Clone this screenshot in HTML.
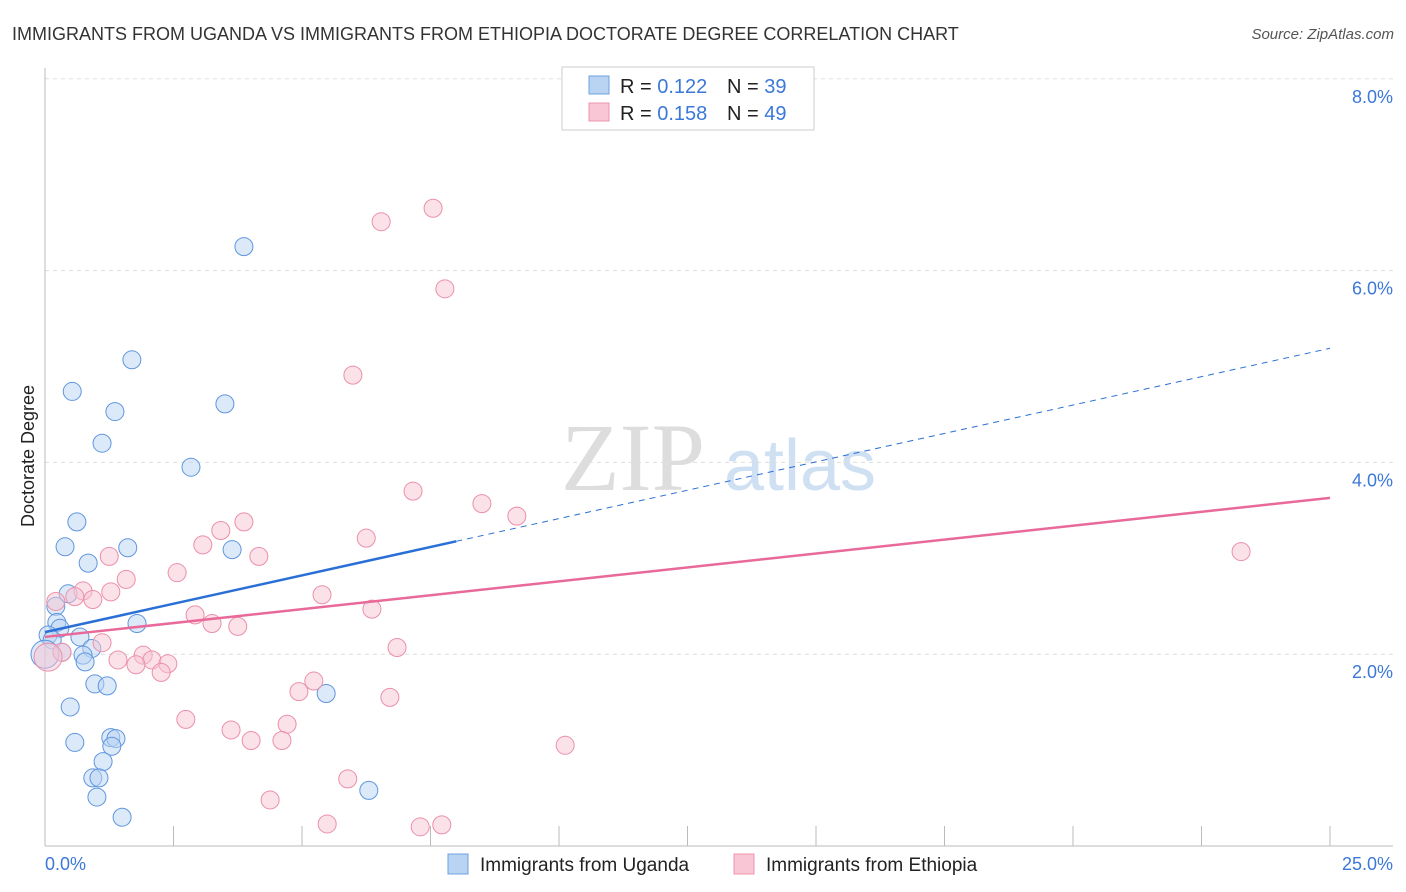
<!DOCTYPE html>
<html><head><meta charset="utf-8"><style>
body{margin:0;background:#fff;font-family:"Liberation Sans",sans-serif}
svg{display:block}
</style></head><body>
<svg id="c" width="1406" height="892" xmlns="http://www.w3.org/2000/svg">
<text x="12" y="40" font-size="18" fill="#333">IMMIGRANTS FROM UGANDA VS IMMIGRANTS FROM ETHIOPIA DOCTORATE DEGREE CORRELATION CHART</text>
<text x="1394" y="39" font-size="15" fill="#555" font-style="italic" text-anchor="end">Source: ZipAtlas.com</text>
<text x="34" y="456" font-size="18" fill="#222" text-anchor="middle" transform="rotate(-90 34 456)">Doctorate Degree</text>
<g><text x="633" y="490" font-size="96" fill="#ddd" font-family="Liberation Serif,serif" text-anchor="middle">ZIP</text><text x="800" y="490" font-size="72" fill="#cfe0f3" text-anchor="middle">atlas</text></g>
<g id="grid"></g><g id="marks"></g>
<g>
<rect x="562" y="67" width="252" height="63" fill="#fff" stroke="#ccc"/>
<rect x="589" y="76" width="20" height="18" fill="#b9d3f3" stroke="#6ea0e0"/>
<rect x="589" y="103" width="20" height="18" fill="#f8c6d4" stroke="#ec95ad"/>
<text x="620" y="93" font-size="20" fill="#222">R = <tspan fill="#3b78d8">0.122</tspan></text>
<text x="727" y="93" font-size="20" fill="#222">N = <tspan fill="#3b78d8">39</tspan></text>
<text x="620" y="120" font-size="20" fill="#222">R = <tspan fill="#3b78d8">0.158</tspan></text>
<text x="727" y="120" font-size="20" fill="#222">N = <tspan fill="#3b78d8">49</tspan></text>
</g>
<g>
<rect x="448" y="854" width="20" height="20" fill="#b9d3f3" stroke="#6ea0e0"/>
<text x="480" y="871" font-size="19" fill="#222">Immigrants from Uganda</text>
<rect x="734" y="854" width="20" height="20" fill="#f8c6d4" stroke="#ec95ad"/>
<text x="766" y="871" font-size="19" fill="#222">Immigrants from Ethiopia</text>
</g>
<text x="45" y="870" font-size="18" fill="#3b78d8">0.0%</text>
<text x="1393" y="870" font-size="18" fill="#3b78d8" text-anchor="end">25.0%</text>
</svg>
<script>
const yTicks=[2,4,6,8];
const yTickLabels=["2.0%","4.0%","6.0%","8.0%"];
const ugandaX=[3.87,1.69,0.53,1.36,3.50,1.11,2.84,0.62,0.39,1.61,3.64,0.84,0.45,0.21,0.23,0.29,1.79,0.06,0.68,0.14,0.33,0.91,0.74,0.78,0.97,1.21,5.47,0.49,0.58,1.28,1.38,1.30,1.13,0.93,1.05,1.01,6.30,1.50,0.0];
const ugandaY=[6.25,5.07,4.74,4.53,4.61,4.20,3.95,3.38,3.12,3.11,3.09,2.95,2.63,2.50,2.33,2.27,2.32,2.20,2.18,2.15,2.02,2.06,1.99,1.92,1.69,1.67,1.59,1.45,1.08,1.13,1.12,1.04,0.88,0.71,0.71,0.51,0.58,0.30,2.0];
const ethiopiaX=[7.55,6.54,7.78,5.99,7.16,8.50,9.18,3.87,3.42,6.25,3.07,1.25,4.16,1.58,2.57,0.74,1.28,0.58,0.93,0.21,5.39,6.36,2.92,3.25,3.75,1.11,6.85,1.91,2.08,1.42,2.39,1.77,2.26,0.33,0.06,5.23,4.94,6.71,2.74,4.71,3.62,4.01,4.61,10.12,5.89,4.38,5.49,7.30,7.72,23.27];
const ethiopiaY=[6.65,6.51,5.81,4.91,3.70,3.57,3.44,3.38,3.29,3.21,3.14,3.02,3.02,2.78,2.85,2.66,2.65,2.60,2.57,2.55,2.62,2.47,2.41,2.32,2.29,2.12,2.07,1.99,1.94,1.94,1.90,1.89,1.81,2.02,1.97,1.72,1.61,1.55,1.32,1.27,1.21,1.10,1.10,1.05,0.70,0.48,0.23,0.20,0.22,3.07];
const ugandaTrend=[2.23,5.19];
const ethiopiaTrend=[2.18,3.63];
const X0=45,X1=1330,Y0=846,YPX=95.9;
const sx=v=>X0+v*(X1-X0)/25, sy=v=>Y0-v*YPX;
const NS="http://www.w3.org/2000/svg";
function mk(t,a,p){const e=document.createElementNS(NS,t);for(const k in a)e.setAttribute(k,a[k]);p.appendChild(e);return e;}
const g=document.getElementById('grid'),m=document.getElementById('marks');
yTicks.forEach((t,i)=>{
 const l=mk('line',{x1:X0,x2:1393,y1:sy(t),y2:sy(t),stroke:'#ddd','stroke-dasharray':'4,4'},g);
 
 
 const tx=mk('text',{x:1393,y:sy(t)+24,'font-size':18,fill:'#3b78d8','text-anchor':'end'},g);
 tx.textContent=yTickLabels[i];
 
 
});
const ax=mk('line',{x1:X0,x2:X0,y1:68,y2:Y0,stroke:'#bbb'},g);


const bx=mk('line',{x1:X0,x2:1393,y1:Y0,y2:Y0,stroke:'#bbb'},g);


for(let i=1;i<=10;i++){const t=mk('line',{x1:sx(i*2.5),x2:sx(i*2.5),y1:826,y2:Y0,stroke:'#bbb'},g);
 
 }
function pts(xs,ys,fill,stroke,name,bigIdx){xs.forEach((x,i)=>{
 const c=mk('circle',{cx:sx(x),cy:sy(ys[i]),r:i===bigIdx?14:9,fill:fill,'fill-opacity':0.5,stroke:stroke,'stroke-width':1},m);
 
 });}
pts(ugandaX,ugandaY,'#b9d3f3','#5f96de','uganda-point',38);
pts(ethiopiaX,ethiopiaY,'#f8c6d4','#ec8fab','ethiopia-point',34);
const ty=(tr,x)=>tr[0]+(tr[1]-tr[0])*x/25;
const l1=mk('line',{x1:sx(0),y1:sy(ty(ugandaTrend,0)),x2:sx(8),y2:sy(ty(ugandaTrend,8)),stroke:'#2a6fd6','stroke-width':2.5},m);


const l2=mk('line',{x1:sx(8),y1:sy(ty(ugandaTrend,8)),x2:sx(25),y2:sy(ty(ugandaTrend,25)),stroke:'#2a6fd6','stroke-width':1,'stroke-dasharray':'6,5'},m);


const l3=mk('line',{x1:sx(0),y1:sy(ty(ethiopiaTrend,0)),x2:sx(25),y2:sy(ty(ethiopiaTrend,25)),stroke:'#e8699a','stroke-width':2.5},m);


</script>
</body></html>
